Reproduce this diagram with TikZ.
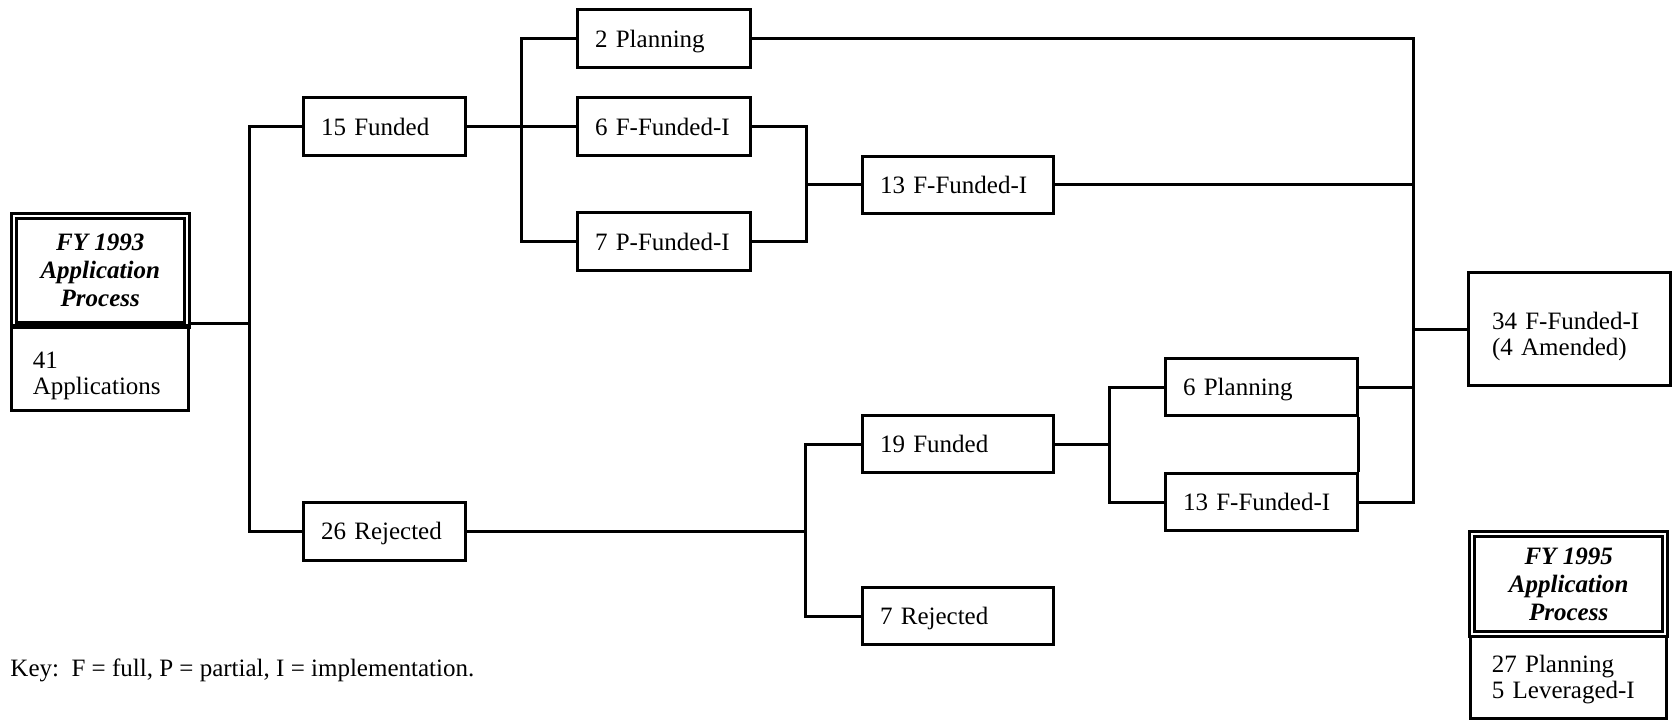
\documentclass[tikz,border=0pt]{standalone}
\usepackage{fontspec}
\setmainfont{Liberation Serif}
\begin{document}
\begin{tikzpicture}[x=0.5pt,y=-0.5pt,line width=1.5pt,
  txt/.style={font=\fontsize{12.5}{13.2}\selectfont},
  box/.style={txt,draw,rectangle,inner xsep=9pt,inner ysep=0pt,align=left,text height=8.5pt,text depth=0pt},
  wA/.style={text width=63pt,minimum height=29pt},
  wB/.style={text width=68.5pt,minimum height=29pt},
  wC/.style={text width=77.5pt,minimum height=28.5pt},
  wD/.style={text width=78pt,minimum height=28.5pt},
  head/.style={draw,double,line width=1.5pt,double distance=1pt,align=center,inner sep=0pt,
    font=\fontsize{12.5}{14}\selectfont\bfseries\itshape},
  info/.style={txt,draw,rectangle,inner ysep=0pt,align=left,text height=8.5pt}]
\useasboundingbox (0,0) rectangle (1675,727);

% FY 1993 box
\node[head,minimum width=86.25pt,minimum height=54pt] (fy93h) at (100.25,270.5) {FY 1993\\Application\\Process};
\node[info,minimum width=88.5pt,minimum height=42.5pt,inner xsep=10.7pt,text width=67.1pt,text depth=8pt] (fy93b) at (100,367.5) {41\\Applications};

% boxes
\node[box,wA] (f15) at (384,127) {15 Funded};
\node[box,wA] (r26) at (384,531) {26 Rejected};
\node[box,wB] (pl2) at (663.5,39) {2 Planning};
\node[box,wB] (ff6) at (663.5,127) {6 F-Funded-I};
\node[box,wB] (pf7) at (663.5,242) {7 P-Funded-I};
\node[box,wC] (ff13a) at (957.5,185) {13 F-Funded-I};
\node[box,wC] (f19) at (957.5,444) {19 Funded};
\node[box,wC] (r7) at (957.5,616) {7 Rejected};
\node[box,wD] (pl6) at (1261,387) {6 Planning};
\node[box,wD] (ff13b) at (1261,502) {13 F-Funded-I};
\node[info,minimum width=101pt,minimum height=56.5pt,inner xsep=12pt,text width=77pt,text depth=8pt] (ff34) at (1569,329) {34 F-Funded-I\\(4 Amended)};

% FY 1995 box
\node[head,minimum width=96.65pt,minimum height=50.45pt] (fy95h) at (1568.65,584) {FY 1995\\Application\\Process};
\node[info,minimum width=97.85pt,minimum height=41.25pt,inner xsep=10.5pt,text width=76.85pt,text depth=13.5pt] (fy95b) at (1568.65,677.25) {27 Planning\\5 Leveraged-I};

% key
\node[txt,anchor=base west,inner sep=0pt] (key) at (9,676) {Key:~~F = full, P = partial, I = implementation.};

% junctions
\coordinate (j0) at (249,326);
\coordinate (j1) at (521,127);
\coordinate (j2) at (806,185);
\coordinate (j3) at (805,531);
\coordinate (j4) at (1109,444);
\coordinate (j5) at (1413,329);

% connectors
\draw (fy93b.north east) -- (fy93b.north east -| j0);
\draw (f15.west) -| (j0) |- (r26.west);
\draw (pl2.west) -| (j1) |- (pf7.west);
\draw (f15.east) -- (ff6.west);
\draw (ff6.east) -| (j2) |- (pf7.east);
\draw (j2) -- (ff13a.west);
\draw (f19.west) -| (j3) |- (r7.west);
\draw (r26.east) -- (j3);
\draw (pl6.west) -| (j4) |- (ff13b.west);
\draw (f19.east) -- (j4);
\draw (pl2.east) -| (j5) |- (ff13b.east);
\draw (ff13a.east) -- (ff13a.east -| j5);
\draw (pl6.east) -- (pl6.east -| j5);
\draw (j5) -- (ff34.west);
\draw (pl6.south east) -- (ff13b.north east);
\end{tikzpicture}
\end{document}
